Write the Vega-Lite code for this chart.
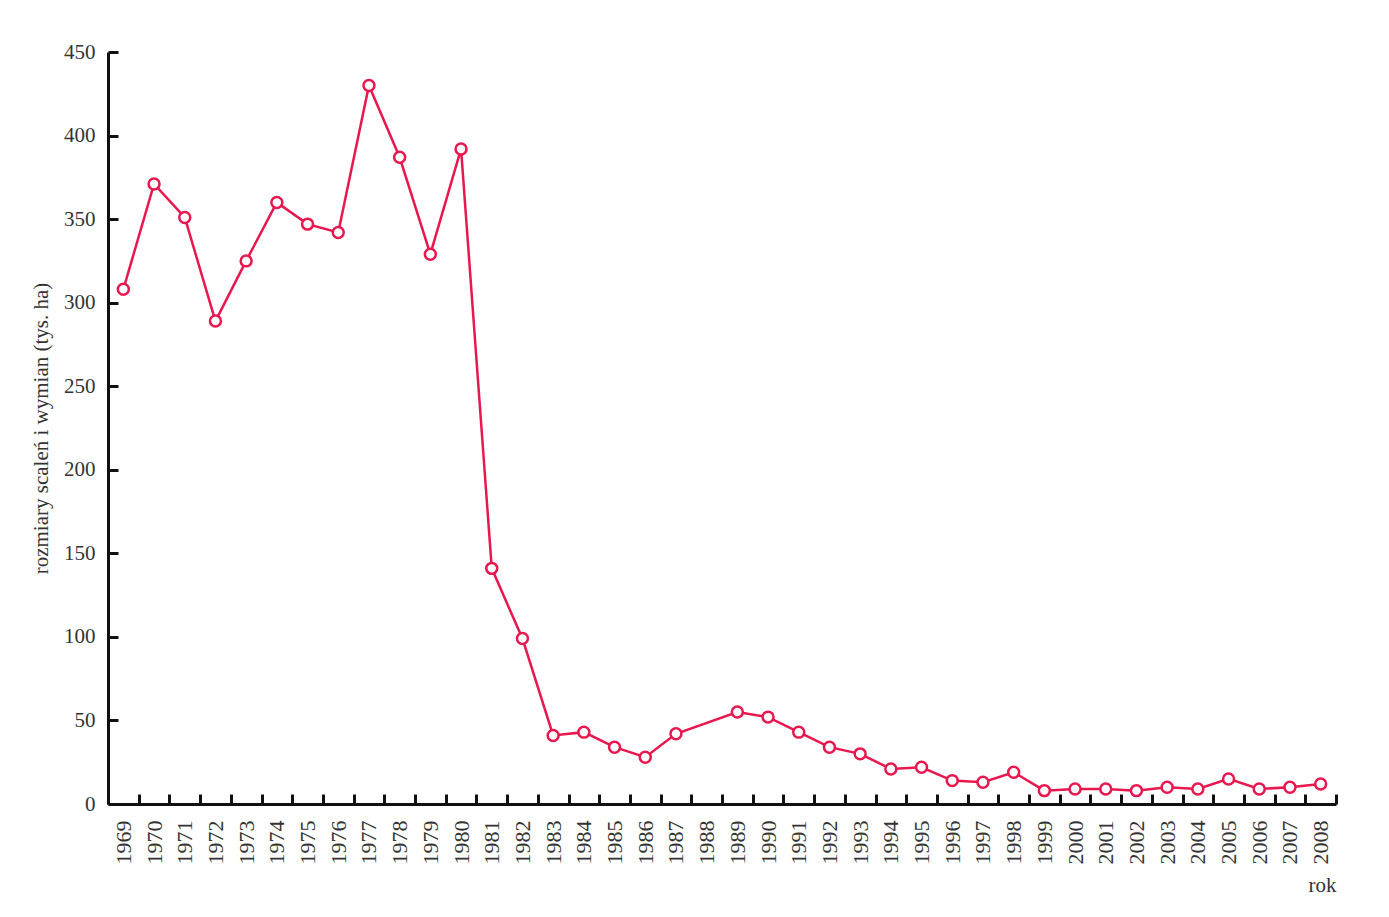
{
  "$schema": "https://vega.github.io/schema/vega-lite/v6.json",
  "width": 1228,
  "height": 752,
  "autosize": {"type": "none"},
  "padding": {"left": 108, "top": 52, "right": 53, "bottom": 113},
  "background": "white",
  "config": {
    "view": {"stroke": null},
    "font": "Liberation Serif",
    "axis": {
      "labelFont": "Liberation Serif",
      "titleFont": "Liberation Serif",
      "labelColor": "#333333",
      "titleColor": "#333333",
      "labelFontSize": 21,
      "titleFontSize": 21,
      "titleFontWeight": "normal",
      "domainColor": "#111111",
      "domainWidth": 3,
      "tickColor": "#111111",
      "tickWidth": 3,
      "grid": false
    }
  },
  "data": {
    "values": [
      {"rok": 1969, "wartosc": 308},
      {"rok": 1970, "wartosc": 371},
      {"rok": 1971, "wartosc": 351},
      {"rok": 1972, "wartosc": 289},
      {"rok": 1973, "wartosc": 325},
      {"rok": 1974, "wartosc": 360},
      {"rok": 1975, "wartosc": 347},
      {"rok": 1976, "wartosc": 342},
      {"rok": 1977, "wartosc": 430},
      {"rok": 1978, "wartosc": 387},
      {"rok": 1979, "wartosc": 329},
      {"rok": 1980, "wartosc": 392},
      {"rok": 1981, "wartosc": 141},
      {"rok": 1982, "wartosc": 99},
      {"rok": 1983, "wartosc": 41},
      {"rok": 1984, "wartosc": 43},
      {"rok": 1985, "wartosc": 34},
      {"rok": 1986, "wartosc": 28},
      {"rok": 1987, "wartosc": 42},
      {"rok": 1989, "wartosc": 55},
      {"rok": 1990, "wartosc": 52},
      {"rok": 1991, "wartosc": 43},
      {"rok": 1992, "wartosc": 34},
      {"rok": 1993, "wartosc": 30},
      {"rok": 1994, "wartosc": 21},
      {"rok": 1995, "wartosc": 22},
      {"rok": 1996, "wartosc": 14},
      {"rok": 1997, "wartosc": 13},
      {"rok": 1998, "wartosc": 19},
      {"rok": 1999, "wartosc": 8},
      {"rok": 2000, "wartosc": 9},
      {"rok": 2001, "wartosc": 9},
      {"rok": 2002, "wartosc": 8},
      {"rok": 2003, "wartosc": 10},
      {"rok": 2004, "wartosc": 9},
      {"rok": 2005, "wartosc": 15},
      {"rok": 2006, "wartosc": 9},
      {"rok": 2007, "wartosc": 10},
      {"rok": 2008, "wartosc": 12}
    ]
  },
  "encoding": {
    "x": {
      "field": "rok",
      "type": "ordinal",
      "bandPosition": 0.5,
      "scale": {
        "type": "band",
        "paddingInner": 0,
        "paddingOuter": 0,
        "domain": [1969,1970,1971,1972,1973,1974,1975,1976,1977,1978,1979,1980,1981,1982,1983,1984,1985,1986,1987,1988,1989,1990,1991,1992,1993,1994,1995,1996,1997,1998,1999,2000,2001,2002,2003,2004,2005,2006,2007,2008]
      },
      "axis": {
        "title": "rok",
        "titleAnchor": "end",
        "titlePadding": 10,
        "labelAngle": 270,
        "labelAlign": "right",
        "labelBaseline": "middle",
        "labelPadding": 26,
        "labelFontSize": 22,
        "tickBand": "extent",
        "tickSize": -10,
        "labelOverlap": false
      }
    },
    "y": {
      "field": "wartosc",
      "type": "quantitative",
      "scale": {"domain": [0, 450], "nice": false},
      "axis": {
        "title": "rozmiary scaleń i wymian (tys. ha)",
        "values": [0, 50, 100, 150, 200, 250, 300, 350, 400, 450],
        "tickSize": -10,
        "labelPadding": 23,
        "titlePadding": 12
      }
    }
  },
  "layer": [
    {"mark": {"type": "line", "color": "#E8174E", "strokeWidth": 2.5}},
    {"mark": {"type": "point", "shape": "circle", "filled": true, "fill": "white", "stroke": "#E8174E", "strokeWidth": 2.5, "size": 120, "opacity": 1}}
  ]
}
